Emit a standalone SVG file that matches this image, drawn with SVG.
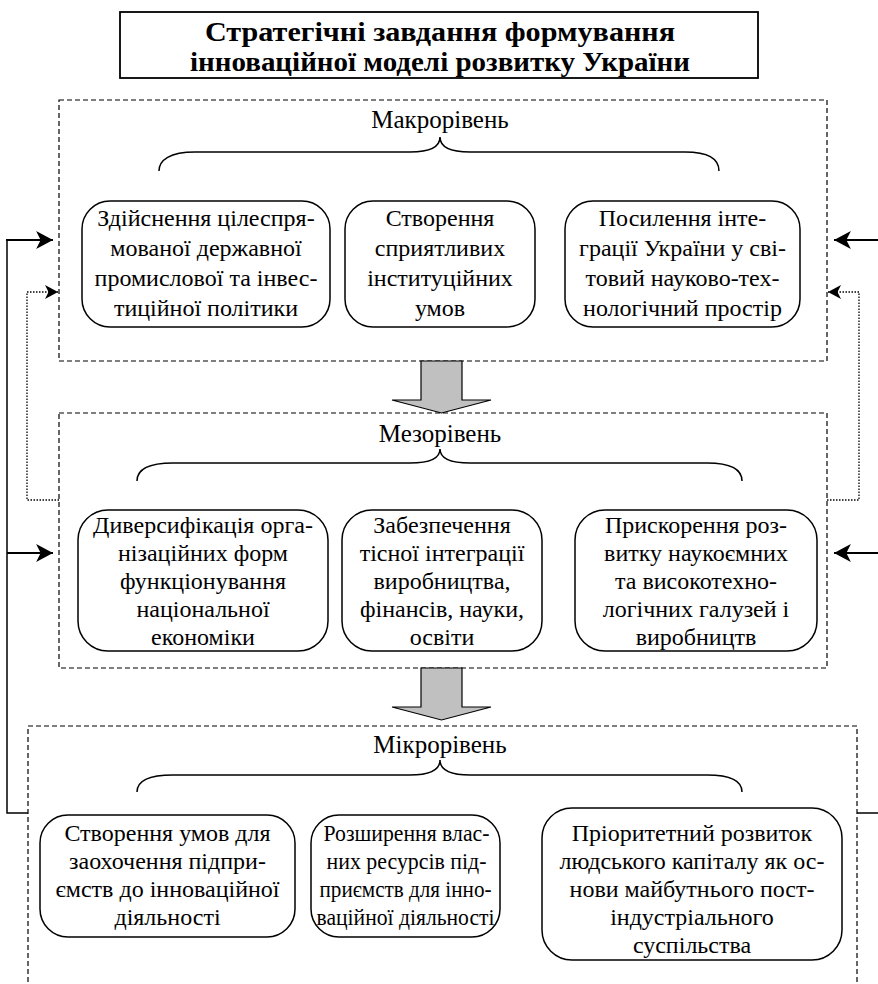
<svg xmlns="http://www.w3.org/2000/svg" width="878" height="984" viewBox="0 0 878 984">
<style>
text{font-family:"Liberation Serif","Times New Roman",serif;fill:#000}
.t{font-size:24px;text-anchor:middle}
.lvl{font-size:25px;text-anchor:middle}
.title{font-size:27px;font-weight:bold;text-anchor:middle}
.box{fill:#fff;stroke:#000;stroke-width:1.5}
.dash{fill:none;stroke:#000;stroke-width:1.2;stroke-dasharray:5,3}
.brace{fill:none;stroke:#000;stroke-width:1.5}
.blk{fill:#c0c0c0;stroke:#000;stroke-width:1.2}
.solid{fill:none;stroke:#000;stroke-width:2}
.thin{fill:none;stroke:#000;stroke-width:1.5}
.dot{fill:none;stroke:#000;stroke-width:1.3;stroke-dasharray:1.5,1.5}
</style>
<defs>
<marker id="ah" markerUnits="userSpaceOnUse" markerWidth="18" markerHeight="18" viewBox="0 0 16 16" refX="15" refY="8" orient="auto">
<path d="M0,0 L15,8 L0,16 L4,8 Z" fill="#000"/>
</marker>
<marker id="ahs" markerUnits="userSpaceOnUse" markerWidth="14" markerHeight="14" viewBox="0 0 14 14" refX="13" refY="7" orient="auto">
<path d="M0,0 L13,7 L0,14 L3.5,7 Z" fill="#000"/>
</marker>
</defs>

<g id="title">
<rect x="120" y="12" width="638" height="66" fill="#fff" stroke="#000" stroke-width="1.8"/>
<text class="title" x="440" y="41" textLength="470" lengthAdjust="spacingAndGlyphs">Стратегічні завдання формування</text>
<text class="title" x="440" y="71" textLength="500" lengthAdjust="spacingAndGlyphs">інноваційної моделі розвитку України</text>
</g>

<g id="macro">
<rect class="dash" x="59" y="100" width="768" height="261"/>
<text class="lvl" x="440" y="128">Макрорівень</text>
<path class="brace" d="M159,171 C159,160 170,152 195,152 L410,152 C430,152 440,147 440,137 C440,147 450,152 470,152 L685,152 C710,152 719,160 719,171"/>
</g>

<g id="macro1">
<rect class="box" x="82" y="201" width="248" height="126" rx="28" ry="28"/>
<text class="t"><tspan x="206" y="226">Здійснення цілеспря-</tspan><tspan x="206" y="256">мованої державної</tspan><tspan x="206" y="286">промислової та інвес-</tspan><tspan x="206" y="316">тиційної політики</tspan></text>
</g>
<g id="macro2">
<rect class="box" x="345" y="201" width="190" height="126" rx="28" ry="28"/>
<text class="t"><tspan x="440" y="226">Створення</tspan><tspan x="440" y="256">сприятливих</tspan><tspan x="440" y="286">інституційних</tspan><tspan x="440" y="316">умов</tspan></text>
</g>
<g id="macro3">
<rect class="box" x="565" y="201" width="235" height="126" rx="28" ry="28"/>
<text class="t"><tspan x="682.5" y="226">Посилення інте-</tspan><tspan x="682.5" y="256">грації України у сві-</tspan><tspan x="682.5" y="286">товий науково-тех-</tspan><tspan x="682.5" y="316">нологічний простір</tspan></text>
</g>

<g id="meso">
<rect class="dash" x="59" y="413" width="768" height="255"/>
<text class="lvl" x="440" y="442">Мезорівень</text>
<path class="brace" d="M137,481 C137,470 148,463 173,463 L410,463 C430,463 440,458 440,449 C440,458 450,463 470,463 L707,463 C732,463 742,470 742,481"/>
</g>

<g id="meso1">
<rect class="box" x="78" y="510" width="250" height="141" rx="30" ry="30"/>
<text class="t"><tspan x="203" y="533">Диверсифікація орга-</tspan><tspan x="203" y="561">нізаційних форм</tspan><tspan x="203" y="589">функціонування</tspan><tspan x="203" y="617">національної</tspan><tspan x="203" y="645">економіки</tspan></text>
</g>
<g id="meso2">
<rect class="box" x="342" y="510" width="200" height="141" rx="30" ry="30"/>
<text class="t"><tspan x="442" y="533">Забезпечення</tspan><tspan x="442" y="561">тісної інтеграції</tspan><tspan x="442" y="589">виробництва,</tspan><tspan x="442" y="617">фінансів, науки,</tspan><tspan x="442" y="645">освіти</tspan></text>
</g>
<g id="meso3">
<rect class="box" x="575" y="510" width="242" height="141" rx="30" ry="30"/>
<text class="t"><tspan x="696" y="533">Прискорення роз-</tspan><tspan x="696" y="561">витку наукоємних</tspan><tspan x="696" y="589">та високотехно-</tspan><tspan x="696" y="617">логічних галузей і</tspan><tspan x="696" y="645">виробництв</tspan></text>
</g>

<g id="micro">
<path class="dash" d="M28,990 L28,726 L857,726 L857,990"/>
<text class="lvl" x="440" y="753">Мікрорівень</text>
<path class="brace" d="M137,792 C137,781 148,775 173,775 L410,775 C430,775 440,770 440,760 C440,770 450,775 470,775 L707,775 C732,775 742,781 742,792"/>
</g>

<g id="micro1">
<rect class="box" x="40" y="815" width="255" height="122" rx="28" ry="28"/>
<text class="t"><tspan x="167.5" y="841">Створення умов для</tspan><tspan x="167.5" y="869">заохочення підпри-</tspan><tspan x="167.5" y="897">ємств до інноваційної</tspan><tspan x="167.5" y="925">діяльності</tspan></text>
</g>
<g id="micro2">
<rect class="box" x="311" y="815" width="189" height="122" rx="28" ry="28"/>
<text class="t" x="406.5" y="841" textLength="166" lengthAdjust="spacingAndGlyphs">Розширення влас-</text>
<text class="t" x="406.5" y="869" textLength="160" lengthAdjust="spacingAndGlyphs">них ресурсів під-</text>
<text class="t" x="405.5" y="897" textLength="172" lengthAdjust="spacingAndGlyphs">приємств для інно-</text>
<text class="t" x="405.5" y="925" textLength="178" lengthAdjust="spacingAndGlyphs">ваційної діяльності</text>
</g>
<g id="micro3">
<rect class="box" x="542" y="808" width="300" height="152" rx="30" ry="30"/>
<text class="t"><tspan x="692" y="841">Пріоритетний розвиток</tspan><tspan x="692" y="869">людського капіталу як ос-</tspan><tspan x="692" y="897">нови майбутнього пост-</tspan><tspan x="692" y="925">індустріального</tspan><tspan x="692" y="953">суспільства</tspan></text>
</g>

<g id="connectors">
<polygon class="blk" points="421,361 462,361 462,400 491,400 441.5,413 392,400 421,400"/>
<polygon class="blk" points="421,668 462,668 462,707 491,707 441.5,720 392,707 421,707"/>
<path class="thin" d="M7,240 L7,813 L28,813"/>
<path class="solid" d="M6,240 L53,240" marker-end="url(#ah)"/>
<path class="solid" d="M7,553 L53,553" marker-end="url(#ah)"/>
<path class="dot" d="M59,500 L27,500 L27,292 L58,292" marker-end="url(#ahs)"/>
<path class="thin" d="M880,240 L880,813 L857,813"/>
<path class="solid" d="M880,240 L834,240" marker-end="url(#ah)"/>
<path class="solid" d="M880,553 L834,553" marker-end="url(#ah)"/>
<path class="dot" d="M827,500 L859,500 L859,292 L828,292" marker-end="url(#ahs)"/>
</g>
</svg>
